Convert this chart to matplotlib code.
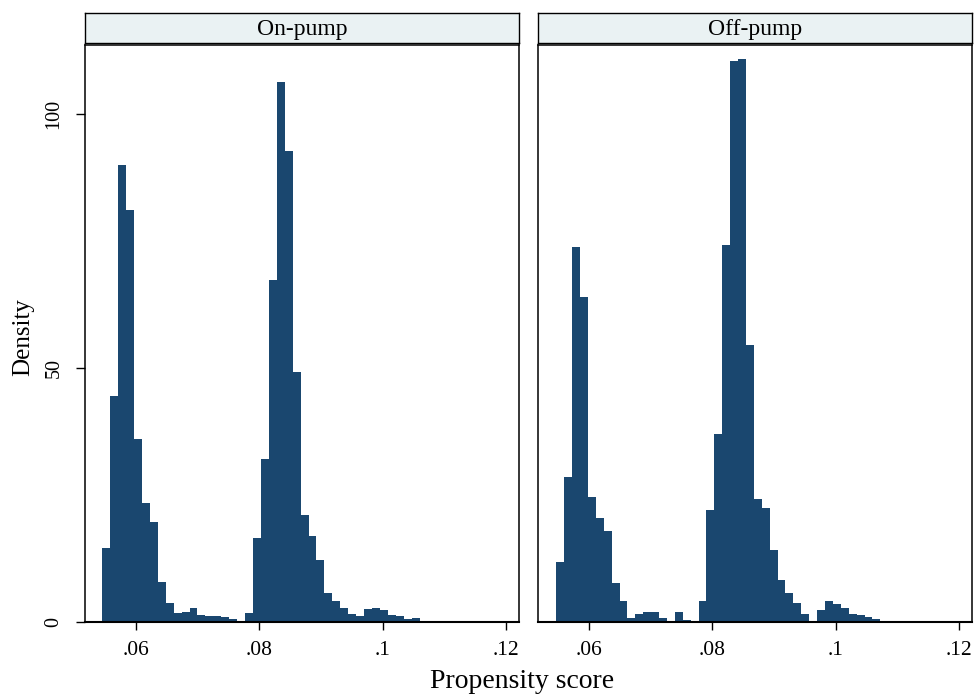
import matplotlib
matplotlib.use("Agg")
import matplotlib.pyplot as plt
import numpy as np

plt.rcParams["font.family"] = ["Liberation Serif", "DejaVu Serif"]

# panels
panels = ["On-pump", "Off-pump"]

# histogram bins (propensity score)
on_start, on_width = 0.05460, 0.001285
on_density = [14.6, 44.5, 89.9, 81.2, 36.1, 23.5, 19.6, 7.8, 3.8, 1.7,
              1.9, 2.8, 1.4, 1.1, 1.1, 0.9, 0.5, 0.2, 1.7, 16.6,
              32.0, 67.4, 106.4, 92.8, 49.3, 21.1, 16.9, 12.3, 5.8, 4.1,
              2.8, 1.5, 1.2, 2.5, 2.8, 2.3, 1.3, 1.1, 0.6, 0.7,
              0.2, 0.2, 0.2]

off_start, off_width = 0.05472, 0.001281
off_density = [11.9, 28.5, 73.8, 64.0, 24.7, 20.4, 17.9, 7.6, 4.2, 0.7,
               1.5, 2.0, 2.0, 0.7, 0.0, 2.0, 0.3, 0.0, 4.1, 22.1,
               37.0, 74.2, 110.4, 110.8, 54.5, 24.2, 22.4, 14.2, 8.3, 5.8,
               3.8, 1.5, 0.2, 2.4, 4.1, 3.6, 2.7, 1.5, 1.4, 1.0, 0.6]

xticks = [0.06, 0.08, 0.10, 0.12]
xticklabels = [".06", ".08", ".1", ".12"]
yticks = [0, 50, 100]

data = [(on_start, on_width, on_density), (off_start, off_width, off_density)]

W, H = 974, 696
fig = plt.figure(figsize=(W / 100, H / 100), dpi=100)

bar_color = "#1a476f"
lefts = [85, 538.3]
widths = [434, 433.7]
ax_top, ax_bottom = 45, 622
strip_top, strip_bottom = 13.3, 43.3

for i, (name, (start, width, dens)) in enumerate(zip(panels, data)):
    ax = fig.add_axes([lefts[i] / W, (H - ax_bottom) / H, widths[i] / W,
                       (ax_bottom - ax_top) / H])
    edges = start + width * np.arange(len(dens))
    ax.bar(edges, dens, width=width, align="edge", color=bar_color,
           linewidth=0)
    ax.set_xlim(0.0518, 0.1221)
    ax.set_ylim(0, 113.6)
    ax.set_xticks(xticks)
    ax.set_xticklabels(xticklabels)
    ax.tick_params(axis="x", direction="out", length=6, width=1.0,
                   labelsize=15.5, pad=8)
    if i == 0:
        ax.set_yticks(yticks)
        ax.tick_params(axis="y", direction="out", length=6.5, width=1.0,
                       labelsize=14.5, pad=9, labelrotation=90)
        for lab in ax.get_yticklabels():
            lab.set_va("center")
    else:
        ax.set_yticks([])
    for s in ax.spines.values():
        s.set_linewidth(1.1)
    ax.spines["bottom"].set_linewidth(1.5)

    # strip header
    sx = fig.add_axes([lefts[i] / W, (H - strip_bottom) / H, widths[i] / W,
                       (strip_bottom - strip_top) / H])
    sx.set_facecolor("#eaf2f3")
    sx.set_xticks([])
    sx.set_yticks([])
    for s in sx.spines.values():
        s.set_linewidth(1.0)
    sx.text(0.5, 0.45, name, ha="center", va="center", fontsize=17,
            transform=sx.transAxes)

fig.text(23 / W, 1 - 337 / H, "Density", rotation=90, ha="center",
         va="center", fontsize=18)
fig.text(522 / W, 1 - 681 / H, "Propensity score", ha="center",
         va="center", fontsize=20)

fig.savefig("out.png", dpi=100)
